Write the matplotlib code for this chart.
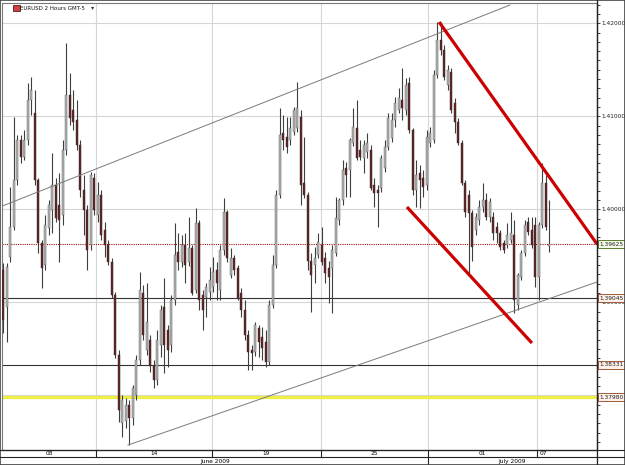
import numpy as np
import matplotlib.pyplot as plt
from matplotlib.lines import Line2D
from matplotlib.patches import Rectangle
from matplotlib.ticker import MultipleLocator, FuncFormatter
import matplotlib.transforms as mtransforms

# 1. EURUSD 2시간봉 OHLC
opens = [1.3935, 1.3895, 1.3949, 1.3981, 1.4031, 1.4074, 1.4056, 1.4074, 1.4117, 1.4104,
         1.4031, 1.3964, 1.3940, 1.3980, 1.3999, 1.4026, 1.4005, 1.3994, 1.4064, 1.4123,
         1.4107, 1.4096, 1.4069, 1.4021, 1.3999, 1.3962, 1.4034, 1.3994, 1.4015, 1.3978,
         1.3962, 1.3943, 1.3908, 1.3843, 1.3770, 1.3773, 1.3790, 1.3776, 1.3800, 1.3838,
         1.3910, 1.3849, 1.3860, 1.3832, 1.3817, 1.3854, 1.3895, 1.3870, 1.3854, 1.3903,
         1.3954, 1.3943, 1.3962, 1.3943, 1.3958, 1.3913, 1.3985, 1.3908, 1.3906, 1.3911,
         1.3916, 1.3935, 1.3913, 1.3956, 1.3997, 1.3929, 1.3948, 1.3937, 1.3910, 1.3892,
         1.3865, 1.3849, 1.3847, 1.3872, 1.3863, 1.3857, 1.3836, 1.3897, 1.3940, 1.4015,
         1.4082, 1.4078, 1.4074, 1.4083, 1.4087, 1.4099, 1.4028, 1.4015, 1.3945, 1.3940,
         1.3951, 1.3962, 1.3948, 1.3937, 1.3937, 1.3953, 1.3989, 1.4010, 1.4044, 1.4042,
         1.4071, 1.4087, 1.4064, 1.4055, 1.4062, 1.4064, 1.4026, 1.4021, 1.4023, 1.4044,
         1.4067, 1.4077, 1.4096, 1.4107, 1.4117, 1.4107, 1.4136, 1.4085, 1.4021, 1.4039,
         1.4034, 1.4026, 1.4071, 1.4074, 1.4144, 1.4182, 1.4171, 1.4134, 1.4148, 1.4114,
         1.4094, 1.4071, 1.4028, 1.4015, 1.3996, 1.3978, 1.3989, 1.4002, 1.4010, 1.3992,
         1.3992, 1.3981, 1.3975, 1.3964, 1.3962, 1.3967, 1.3972, 1.3897, 1.3927, 1.3953,
         1.3986, 1.3978, 1.3983, 1.3927, 1.3983, 1.4028, 1.3961]
highs = [1.3942, 1.3942, 1.4024, 1.4099, 1.4080, 1.4080, 1.4085, 1.4136, 1.4142, 1.4128,
         1.4034, 1.3967, 1.3994, 1.4010, 1.4061, 1.4034, 1.4039, 1.4074, 1.4179, 1.4147,
         1.4128, 1.4117, 1.4074, 1.4037, 1.4005, 1.4040, 1.4039, 1.4029, 1.4021, 1.3986,
         1.3967, 1.3948, 1.3911, 1.3849, 1.3800, 1.3797, 1.3795, 1.3811, 1.3843, 1.3933,
         1.3919, 1.3921, 1.3865, 1.3838, 1.3870, 1.3897, 1.3926, 1.3876, 1.3908, 1.3985,
         1.3975, 1.3972, 1.3975, 1.3992, 1.3962, 1.4001, 1.3989, 1.3913, 1.3921, 1.3938,
         1.3949, 1.3943, 1.3962, 1.4012, 1.3999, 1.3958, 1.3951, 1.3940, 1.3915, 1.3903,
         1.3870, 1.3854, 1.3879, 1.3876, 1.3873, 1.3870, 1.3903, 1.3951, 1.4021, 1.4109,
         1.4101, 1.4099, 1.4099, 1.4110, 1.4137, 1.4107, 1.4078, 1.4019, 1.3953, 1.3959,
         1.3975, 1.3981, 1.3954, 1.3945, 1.3962, 1.4013, 1.4012, 1.4053, 1.4051, 1.4077,
         1.4109, 1.4117, 1.4074, 1.4074, 1.4082, 1.4069, 1.4034, 1.4026, 1.4058, 1.4074,
         1.4104, 1.4104, 1.4121, 1.4130, 1.4152, 1.4141, 1.4142, 1.4087, 1.4053, 1.4048,
         1.4042, 1.4085, 1.4088, 1.4150, 1.4201, 1.4201, 1.4177, 1.4155, 1.4152, 1.4120,
         1.4098, 1.4074, 1.4031, 1.4021, 1.3999, 1.3996, 1.4010, 1.4028, 1.4018, 1.4012,
         1.3997, 1.3986, 1.3978, 1.3967, 1.3985, 1.3997, 1.3989, 1.3932, 1.3956, 1.3989,
         1.3992, 1.3992, 1.3992, 1.3986, 1.4050, 1.4037, 1.4010]
lows = [1.3867, 1.3857, 1.3943, 1.3978, 1.4026, 1.4050, 1.4053, 1.4069, 1.4101, 1.4026,
        1.3953, 1.3915, 1.3935, 1.3972, 1.3975, 1.3986, 1.3943, 1.3983, 1.4058, 1.4091,
        1.4085, 1.4064, 1.4013, 1.3972, 1.3935, 1.3956, 1.3994, 1.3986, 1.3967, 1.3949,
        1.3940, 1.3905, 1.3840, 1.3771, 1.3755, 1.3765, 1.3747, 1.3768, 1.3795, 1.3833,
        1.3860, 1.3843, 1.3825, 1.3808, 1.3811, 1.3841, 1.3824, 1.3830, 1.3847, 1.3897,
        1.3935, 1.3938, 1.3921, 1.3939, 1.3908, 1.3910, 1.3892, 1.3870, 1.3884, 1.3903,
        1.3911, 1.3903, 1.3903, 1.3951, 1.3943, 1.3926, 1.3929, 1.3903, 1.3884, 1.3860,
        1.3827, 1.3827, 1.3842, 1.3841, 1.3838, 1.3830, 1.3833, 1.3894, 1.3937, 1.4012,
        1.4064, 1.4061, 1.4069, 1.4080, 1.4083, 1.4005, 1.4012, 1.3935, 1.3890, 1.3921,
        1.3948, 1.3940, 1.3921, 1.3899, 1.3889, 1.3950, 1.3983, 1.4005, 1.4013, 1.4013,
        1.4068, 1.4053, 1.4053, 1.4039, 1.4055, 1.4021, 1.4002, 1.3981, 1.4019, 1.4040,
        1.4064, 1.4072, 1.4088, 1.4104, 1.4096, 1.4101, 1.4082, 1.4015, 1.4002, 1.4001,
        1.4013, 1.4021, 1.4067, 1.4071, 1.4141, 1.4166, 1.4139, 1.4128, 1.4104, 1.4082,
        1.4069, 1.4026, 1.3992, 1.3932, 1.3945, 1.3972, 1.3983, 1.3997, 1.3989, 1.3986,
        1.3967, 1.3964, 1.3956, 1.3953, 1.3958, 1.3964, 1.3889, 1.3892, 1.3924, 1.3950,
        1.3972, 1.3958, 1.3916, 1.3903, 1.3980, 1.3978, 1.3954]
closes = [1.3881, 1.3938, 1.3981, 1.4031, 1.4074, 1.4056, 1.4074, 1.4117, 1.4128, 1.4031,
          1.3964, 1.3937, 1.3983, 1.4005, 1.4026, 1.3991, 1.3989, 1.4064, 1.4123, 1.4098,
          1.4094, 1.4069, 1.4021, 1.3999, 1.3956, 1.4037, 1.3999, 1.4015, 1.3972, 1.3962,
          1.3943, 1.3908, 1.3843, 1.3784, 1.3795, 1.3790, 1.3776, 1.3808, 1.3838, 1.3913,
          1.3865, 1.3879, 1.3832, 1.3817, 1.3860, 1.3892, 1.3854, 1.3849, 1.3903, 1.3951,
          1.3943, 1.3962, 1.3940, 1.3958, 1.3910, 1.3985, 1.3903, 1.3892, 1.3916, 1.3924,
          1.3933, 1.3921, 1.3956, 1.3997, 1.3948, 1.3948, 1.3935, 1.3905, 1.3892, 1.3865,
          1.3847, 1.3846, 1.3876, 1.3857, 1.3851, 1.3836, 1.3897, 1.3940, 1.4015, 1.4080,
          1.4074, 1.4067, 1.4087, 1.4107, 1.4109, 1.4026, 1.4015, 1.3945, 1.3929, 1.3948,
          1.3965, 1.3943, 1.3932, 1.3927, 1.3956, 1.3991, 1.4010, 1.4042, 1.4037, 1.4074,
          1.4088, 1.4055, 1.4056, 1.4069, 1.4071, 1.4023, 1.4018, 1.4018, 1.4055, 1.4067,
          1.4098, 1.4096, 1.4114, 1.4120, 1.4109, 1.4134, 1.4085, 1.4021, 1.4037, 1.4031,
          1.4024, 1.4078, 1.4082, 1.4144, 1.4182, 1.4171, 1.4142, 1.4150, 1.4107, 1.4094,
          1.4071, 1.4028, 1.3997, 1.3996, 1.3959, 1.3992, 1.4002, 1.4010, 1.3992, 1.4008,
          1.3975, 1.3975, 1.3959, 1.3956, 1.3972, 1.3975, 1.3903, 1.3929, 1.3953, 1.3983,
          1.3976, 1.3962, 1.3927, 1.3983, 1.4028, 1.3981, 1.39625]

# 2. 추세선 (봉 번호, 가격)
upper_channel_x = [-0.9, 144.8]
upper_channel_y = [1.40025, 1.42196]
lower_channel_x = [35.7, 169.7]
lower_channel_y = [1.37466, 1.39219]
red_upper_x = [124.6, 169.7]
red_upper_y = [1.42013, 1.39627]
red_lower_x = [115.4, 151.1]
red_lower_y = [1.40025, 1.38563]

# 수평선 레벨
black_levels = [1.39045, 1.38331]
yellow_level = 1.37980
last_price = 1.39625

# 날짜 축
day_edges = [-0.3, 26.6, 59.7, 90.8, 121.4, 152.6, 169.7]
day_labels = ['08', '14', '19', '25', '01', '07']
month_edges = [-0.3, 121.4, 169.7]
month_labels = ['June 2009', 'July 2009']

W, H = 625, 465
fig = plt.figure(figsize=(W / 100, H / 100), dpi=100)
fig.patch.set_facecolor('white')
ax = fig.add_axes([2 / W, 1 - 450 / H, 595 / W, 447 / H])

# 3. 캔들 그리기
o = np.array(opens)
h = np.array(highs)
l = np.array(lows)
c = np.array(closes)
idx = np.arange(len(c))
up = c >= o
body_lo = np.minimum(o, c)
body_h = np.maximum(np.abs(c - o), 0.00004)

ax.vlines(idx, l, h, color='#3c3f3c', lw=0.8, zorder=3)
ax.bar(idx[up], body_h[up], bottom=body_lo[up], width=0.55,
       color='#b2b2b2', edgecolor='#5a5e5a', linewidth=0.3, zorder=4)
ax.bar(idx[~up], body_h[~up], bottom=body_lo[~up], width=0.55,
       color='#5e2424', edgecolor='#3e2a2a', linewidth=0.3, zorder=4)

# 4. 선들
ax.plot(upper_channel_x, upper_channel_y, color='#7a7a7a', lw=0.7, zorder=5)
ax.plot(lower_channel_x, lower_channel_y, color='#7a7a7a', lw=0.7, zorder=5)
ax.plot(red_upper_x, red_upper_y, color='#cc0000', lw=2.3, zorder=6, solid_capstyle='butt')
ax.plot(red_lower_x, red_lower_y, color='#cc0000', lw=2.3, zorder=6, solid_capstyle='butt')
for lv in black_levels:
    ax.axhline(lv, color='#333333', lw=0.8, zorder=2)
ax.axhline(yellow_level, color='#eeee4a', lw=2.4, zorder=2)
ax.axhline(last_price, color='#a01010', lw=0.8, ls=(0, (1, 1)), zorder=2)

# 그리드
for e in day_edges[1:-1]:
    ax.axvline(e, color='#d6d6d6', lw=0.8, zorder=1)
ax.grid(axis='y', which='major', color='#d6d6d6', lw=0.8, zorder=1)
ax.set_axisbelow(True)


def price_fmt(v, pos):
    # 가격 박스에 완전히 가려지는 눈금 글자는 비워두기
    if abs(v - 1.38) < 1e-6:
        return ''
    return '%.5f' % v


ax.set_xlim(day_edges[0], day_edges[-1])
ax.set_ylim(1.37413, 1.42218)
ax.set_xticks([])
ax.yaxis.tick_right()
ax.yaxis.set_major_locator(MultipleLocator(0.01))
ax.yaxis.set_minor_locator(MultipleLocator(0.001))
ax.yaxis.set_major_formatter(FuncFormatter(price_fmt))
ax.tick_params(axis='y', which='major', direction='out', length=2.5, width=0.6,
               labelsize=4.2, pad=1, colors='#222222')
ax.tick_params(axis='y', which='minor', direction='out', length=1.8, width=0.6, colors='#222222')
for s in ['right', 'bottom']:
    ax.spines[s].set_color('#222222')
    ax.spines[s].set_linewidth(0.9)
for s in ['left', 'top']:
    ax.spines[s].set_color('#777777')
    ax.spines[s].set_linewidth(0.8)

# 5. 오른쪽 가격 박스
trans = mtransforms.blended_transform_factory(ax.transAxes, ax.transData)
ax.text(1.004, last_price, '%.5f' % last_price, transform=trans, fontsize=4.2,
        va='center', ha='left', color='#222222', zorder=10, clip_on=False,
        bbox=dict(boxstyle='square,pad=0.25', fc='#f4fbe8', ec='#5a7a2a', lw=0.7))
for lv in black_levels + [yellow_level]:
    ax.text(1.004, lv, '%.5f' % lv, transform=trans, fontsize=4.2,
            va='center', ha='left', color='#222222', zorder=10, clip_on=False,
            bbox=dict(boxstyle='square,pad=0.25', fc='#fdf0e8', ec='#a05a3a', lw=0.7))

# 6. 제목
fig.patches.append(Rectangle((13 / W, 1 - 11 / H), 7 / W, 6 / H, transform=fig.transFigure,
                             fc='#d04040', ec='#502020', lw=0.6))
fig.text(20.5 / W, 1 - 8 / H, 'EURUSD 2 Hours GMT-5', fontsize=4.0, va='center',
         ha='left', color='#111111')
fig.text(91 / W, 1 - 8 / H, '\u25be', fontsize=4.5, va='center', ha='left', color='#333333')

# 7. 아래쪽 날짜 줄
bx = fig.add_axes([2 / W, 0, 595 / W, 15 / H], sharex=ax)
bx.set_ylim(15, 0)
bx.axis('off')
for i, lab in enumerate(day_labels):
    bx.plot([day_edges[i + 1]] * 2, [0, 7], color='#222222', lw=0.8)
    if lab == '07':
        bx.text(day_edges[i] + 0.8, 3.6, lab, fontsize=4.2, ha='left', va='center')
    else:
        bx.text((day_edges[i] + day_edges[i + 1]) / 2, 3.6, lab, fontsize=4.2,
                ha='center', va='center')
for i, lab in enumerate(month_labels):
    bx.plot([month_edges[i + 1]] * 2, [7, 15], color='#222222', lw=0.8)
    bx.text((month_edges[i] + month_edges[i + 1]) / 2, 11, lab, fontsize=4.2,
            ha='center', va='center')

for yy in [450, 457, 464.5]:
    fig.lines.append(Line2D([0, 1], [1 - yy / H] * 2, transform=fig.transFigure,
                            color='#222222', lw=0.8))
fig.lines.append(Line2D([597 / W] * 2, [0, 1], transform=fig.transFigure,
                        color='#222222', lw=0.9))
fig.patches.append(Rectangle((0, 0), 1, 1, transform=fig.transFigure, fill=False,
                             ec='#444444', lw=1.2))

plt.savefig('out.png', dpi=100)
